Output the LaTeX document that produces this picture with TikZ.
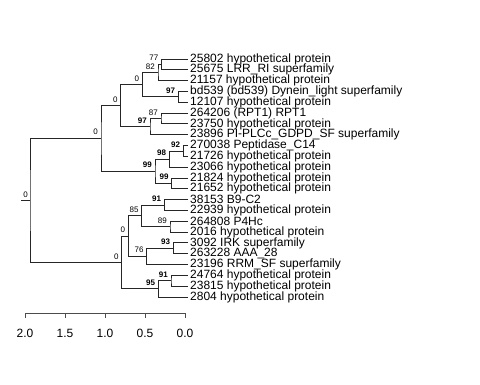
\documentclass[tikz,border=0pt]{standalone}
\usepackage{fontspec}
\setmainfont{Liberation Sans}
\begin{document}
\begin{tikzpicture}[x=1pt,y=-1pt,
  br/.style={draw=black!85, line width=0.9pt},
  axisline/.style={draw=black!70, line width=0.8pt},
  leaf/.style={anchor=west, inner sep=0pt, font=\fontsize{12}{12}\selectfont},
  bl/.style={anchor=base east, inner sep=0pt, font=\fontsize{8}{8}\selectfont},
  bb/.style={anchor=base east, inner sep=0pt, font=\fontsize{8}{8}\selectfont\bfseries},
  ticklab/.style={inner sep=0pt, font=\fontsize{12}{12}\selectfont}]
\useasboundingbox (0,0) rectangle (480,384);
% leaves
\foreach \i/\t in {0/{25802 hypothetical protein},1/{25675 LRR\_RI superfamily},2/{21157 hypothetical protein},3/{bd539 (bd539) Dynein\_light superfamily},4/{12107 hypothetical protein},5/{264206 (RPT1) RPT1},6/{23750 hypothetical protein},7/{23896 PI-PLCc\_GDPD\_SF superfamily},8/{270038 Peptidase\_C14},9/{21726 hypothetical protein},10/{23066 hypothetical protein},11/{21824 hypothetical protein},12/{21652 hypothetical protein},13/{38153 B9-C2},14/{22939 hypothetical protein},15/{264808 P4Hc},16/{2016 hypothetical protein},17/{3092 IRK superfamily},18/{263228 AAA\_28},19/{23196 RRM\_SF superfamily},20/{24764 hypothetical protein},21/{23815 hypothetical protein},22/{2804 hypothetical protein}}{
  \coordinate (t\i) at (188,{59+10.82*\i});
  \node[leaf] (l\i) at (190,{59+10.82*\i}) {\t};
}
% internal nodes
\coordinate (n77) at (161.5,64.41);
\coordinate (n82) at (158,72.53);
\coordinate (n97a) at (178.3,96.87);
\coordinate (n0a) at (142.3,84.7);
\coordinate (n87) at (161,118.51);
\coordinate (n97b) at (150,126.63);
\coordinate (n0b) at (120.7,105.66);
\coordinate (n92) at (183.3,150.97);
\coordinate (n98) at (169.3,159.08);
\coordinate (n99b) at (171.7,183.43);
\coordinate (n99a) at (155,171.26);
\coordinate (n0c) at (101,138.46);
\coordinate (n91a) at (164.3,205.07);
\coordinate (n89) at (170,226.71);
\coordinate (n85) at (141.7,215.89);
\coordinate (n93) at (173.3,248.35);
\coordinate (n76) at (146.7,256.47);
\coordinate (n0d) at (128.3,236.18);
\coordinate (n91b) at (171,280.81);
\coordinate (n95) at (158.3,288.93);
\coordinate (n0e) at (121.7,262.55);
\coordinate (root) at (30,200.5);
\coordinate (rs) at (21,200.5);
% branches
\draw[br] (t0) -| (n77) |- (t1);
\draw[br] (n77) -| (n82) |- (t2);
\draw[br] (t3) -| (n97a) |- (t4);
\draw[br] (n82) -| (n0a) |- (n97a);
\draw[br] (t5) -| (n87) |- (t6);
\draw[br] (n87) -| (n97b) |- (t7);
\draw[br] (n0a) -| (n0b) |- (n97b);
\draw[br] (t8) -| (n92) |- (t9);
\draw[br] (n92) -| (n98) |- (t10);
\draw[br] (t11) -| (n99b) |- (t12);
\draw[br] (n98) -| (n99a) |- (n99b);
\draw[br] (n0b) -| (n0c) |- (n99a);
\draw[br] (t13) -| (n91a) |- (t14);
\draw[br] (t15) -| (n89) |- (t16);
\draw[br] (n91a) -| (n85) |- (n89);
\draw[br] (t17) -| (n93) |- (t18);
\draw[br] (n93) -| (n76) |- (t19);
\draw[br] (n85) -| (n0d) |- (n76);
\draw[br] (t20) -| (n91b) |- (t21);
\draw[br] (n91b) -| (n95) |- (t22);
\draw[br] (n0d) -| (n0e) |- (n95);
\draw[br] (n0c) -| (root) |- (n0e);
\draw[br] (rs) -- (root);
% support labels
\node[bl] (k77) at ([xshift=-3pt,yshift=3.5pt]n77) {77};
\node[bl] (k82) at ([xshift=-3pt,yshift=3.5pt]n82) {82};
\node[bb] (k97a) at ([xshift=-3pt,yshift=3.5pt]n97a) {97};
\node[bl] (k0a) at ([xshift=-3pt,yshift=3.5pt]n0a) {0};
\node[bl] (k87) at ([xshift=-3pt,yshift=3.5pt]n87) {87};
\node[bb] (k97b) at ([xshift=-3pt,yshift=3.5pt]n97b) {97};
\node[bl] (k0b) at ([xshift=-3pt,yshift=3.5pt]n0b) {0};
\node[bb] (k92) at ([xshift=-3pt,yshift=3.5pt]n92) {92};
\node[bb] (k98) at ([xshift=-3pt,yshift=3.5pt]n98) {98};
\node[bb] (k99b) at ([xshift=-3pt,yshift=3.5pt]n99b) {99};
\node[bb] (k99a) at ([xshift=-3pt,yshift=3.5pt]n99a) {99};
\node[bl] (k0c) at ([xshift=-3pt,yshift=3.5pt]n0c) {0};
\node[bb] (k91a) at ([xshift=-3pt,yshift=3.5pt]n91a) {91};
\node[bl] (k89) at ([xshift=-3pt,yshift=3.5pt]n89) {89};
\node[bl] (k85) at ([xshift=-3pt,yshift=3.5pt]n85) {85};
\node[bb] (k93) at ([xshift=-3pt,yshift=3.5pt]n93) {93};
\node[bl] (k76) at ([xshift=-3pt,yshift=3.5pt]n76) {76};
\node[bl] (k0d) at ([xshift=-3pt,yshift=3.5pt]n0d) {0};
\node[bb] (k91b) at ([xshift=-3pt,yshift=3.5pt]n91b) {91};
\node[bb] (k95) at ([xshift=-3pt,yshift=3.5pt]n95) {95};
\node[bl] (k0e) at ([xshift=-3pt,yshift=3.5pt]n0e) {0};
\node[bl] (kroot) at ([xshift=-2pt,yshift=3.5pt]root) {0};
% axis
\coordinate (ax0) at (25,313);
\coordinate (ax4) at (185,313);
\draw[axisline] (ax0) -- (ax4);
\foreach \k/\v in {0/2.0,1/1.5,2/1.0,3/0.5,4/0.0}{
  \coordinate (tk\k) at ({25+40*\k},313);
  \draw[axisline] (tk\k) -- ++(0,5);
  \node[ticklab] (tl\k) at ({25+40*\k},333.5) {\v};
}
\end{tikzpicture}
\end{document}
